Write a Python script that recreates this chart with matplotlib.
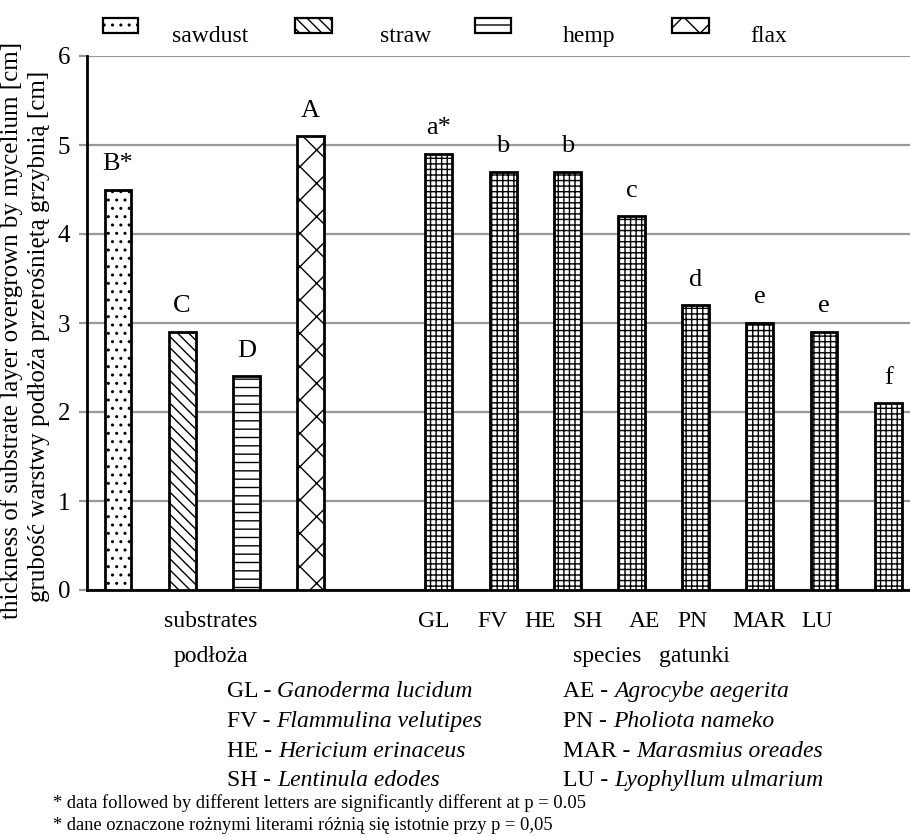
import matplotlib
matplotlib.use('Agg')
import matplotlib.pyplot as plt
from matplotlib.patches import Rectangle

# ---------------- data ----------------
substrates = ['sawdust', 'straw', 'hemp', 'flax']
substrate_values = [4.5, 2.9, 2.4, 5.1]
substrate_letters = ['B*', 'C', 'D', 'A']
substrate_hatches = ['..', '\\\\\\', '--', 'x']

species = ['GL', 'FV', 'HE', 'SH', 'AE', 'PN', 'MAR', 'LU']
species_values = [4.9, 4.7, 4.7, 4.2, 3.2, 3.0, 2.9, 2.1]
species_letters = ['a*', 'b', 'b', 'c', 'd', 'e', 'e', 'f']
species_names = ['Ganoderma lucidum', 'Flammulina velutipes', 'Hericium erinaceus',
                 'Lentinula edodes', 'Agrocybe aegerita', 'Pholiota nameko',
                 'Marasmius oreades', 'Lyophyllum ulmarium']
yticks = [0, 1, 2, 3, 4, 5, 6]

ylabel_en = 'thickness of substrate layer overgrown by mycelium [cm]'
ylabel_pl = 'grubość warstwy podłoża przerośniętą grzybnią [cm]'
note_en = '* data followed by different letters are significantly different at p = 0.05'
note_pl = '* dane oznaczone rożnymi literami różnią się istotnie przy p = 0,05'

# ---------------- style ----------------
plt.rcParams['font.family'] = ['Liberation Serif', 'DejaVu Serif']
plt.rcParams['hatch.linewidth'] = 1.0
plt.rcParams['hatch.color'] = 'black'

W, H = 910, 836
fig = plt.figure(figsize=(W / 100, H / 100), dpi=100)


def fx(x):
    return x / W


def fy(y):
    return 1 - y / H


# y labels (drawn first so the axes tick labels sit over them)
fig.text(fx(12), fy(330), ylabel_en, rotation=90, ha='center', va='center', fontsize=18)
fig.text(fx(39), fy(336), ylabel_pl, rotation=90, ha='center', va='center', fontsize=18)

ax = fig.add_axes([fx(87), fy(590), fx(910) - fx(87), fy(56) - fy(590)])
ax.patch.set_alpha(0)

sub_pos = list(range(len(substrates)))
spe_pos = [len(substrates) + 1 + i for i in range(len(species))]
bw = 0.42

for p, v, h in zip(sub_pos, substrate_values, substrate_hatches):
    ax.bar(p, v, width=bw, color='white', edgecolor='black', linewidth=2, hatch=h, zorder=3)
for p, v in zip(spe_pos, species_values):
    ax.bar(p, v, width=bw, color='white', edgecolor='black', linewidth=2, hatch='+++', zorder=3)

for p, v, t in zip(sub_pos, substrate_values, substrate_letters):
    ax.text(p, v + 0.22, t, ha='center', va='baseline', fontsize=19)
for p, v, t in zip(spe_pos, species_values, species_letters):
    ax.text(p, v + 0.22, t, ha='center', va='baseline', fontsize=19)

ax.set_ylim(0, 6)
ax.set_xlim(-0.483, 12.34)
ax.set_yticks(yticks)
ax.set_yticklabels([str(t) for t in yticks], fontsize=18)
ax.set_xticks([])
ax.yaxis.grid(True, color='#999999', linewidth=1.6)
ax.set_axisbelow(True)
ax.tick_params(axis='y', length=6, width=1.6, color='#999999', pad=6)
for lbl in ax.get_yticklabels():
    lbl.set_bbox(dict(facecolor='white', edgecolor='none', pad=0.5))
for s in ['top', 'right']:
    ax.spines[s].set_visible(False)
for s in ['left', 'bottom']:
    ax.spines[s].set_linewidth(2)
    ax.spines[s].set_color('black')

# legend (manual)
leg_patches = [(103, 138), (295, 332), (475, 511), (672, 709)]
leg_text_x = [172, 380, 563, 750]
for (x0, x1), tx, name, h in zip(leg_patches, leg_text_x, substrates, substrate_hatches):
    hh = h if h != '--' else '-'
    r = Rectangle((fx(x0), fy(33)), fx(x1) - fx(x0), fy(18) - fy(33), transform=fig.transFigure,
                  facecolor='white', edgecolor='black', linewidth=1.6, hatch=hh)
    fig.add_artist(r)
    fig.text(fx(tx), fy(42), name, ha='left', va='baseline', fontsize=17)

# category labels
fig.text(fx(211), fy(627), 'substrates', ha='center', va='baseline', fontsize=17)
fig.text(fx(211), fy(662), 'podłoża', ha='center', va='baseline', fontsize=17)
abbr_x = [434, 492, 540, 588, 644, 692, 759, 817]
for x, s in zip(abbr_x, species):
    fig.text(fx(x), fy(627), s, ha='center', va='baseline', fontsize=17)
fig.text(fx(651), fy(662), 'species   gatunki', ha='center', va='baseline', fontsize=17)

# species key
fig.canvas.draw()
renderer = fig.canvas.get_renderer()
row_y = [697, 727, 757, 786]
for i, (ab, nm) in enumerate(zip(species, species_names)):
    col = i // 4
    x0 = 227 if col == 0 else 563
    y = row_y[i % 4]
    t = fig.text(fx(x0), fy(y), ab + ' - ', ha='left', va='baseline', fontsize=17)
    bb = t.get_window_extent(renderer)
    fig.text(bb.x1 / W, fy(y), nm, ha='left', va='baseline', fontsize=17, style='italic')

fig.text(fx(53), fy(808), note_en, ha='left', va='baseline', fontsize=13.3)
fig.text(fx(53), fy(830), note_pl, ha='left', va='baseline', fontsize=13.3)

fig.savefig('out.png', dpi=100)
